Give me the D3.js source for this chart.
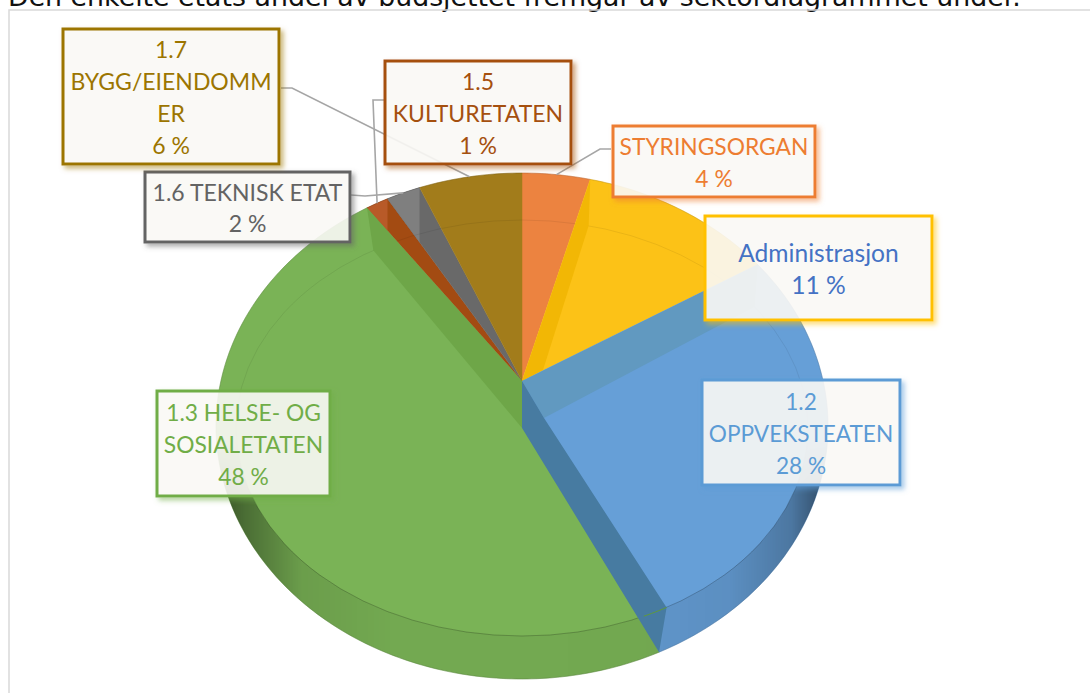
<!DOCTYPE html>
<html>
<head>
<meta charset="utf-8">
<style>
  html, body { margin: 0; padding: 0; background: #fff; overflow: hidden; }
  svg { display: block; }
</style>
</head>
<body>
<script src="https://d3js.org/d3.v7.min.js"></script>
<script>
// slice order clockwise from twelve o'clock, shares
const categories = ['STYRINGSORGAN', 'Administrasjon', '1.2 OPPVEKSTEATEN', '1.3 HELSE- OG SOSIALETATEN', '1.5 KULTURETATEN', '1.6 TEKNISK ETAT', '1.7 BYGG/EIENDOMMER'];
const shares = [3.6, 11.4, 28, 48.3, 1.3, 1.9, 5.5];
const percentLabels = ['4 %', '11 %', '28 %', '48 %', '1 %', '2 %', '6 %'];
const labelLines = [
  ['STYRINGSORGAN'],
  ['Administrasjon'],
  ['1.2', 'OPPVEKSTEATEN'],
  ['1.3 HELSE- OG', 'SOSIALETATEN'],
  ['1.5', 'KULTURETATEN'],
  ['1.6 TEKNISK ETAT'],
  ['1.7', 'BYGG/EIENDOMM', 'ER']
];

// styles
const sliceFill = ['#ec8340', '#fcc217', '#669fd7', '#7ab356', '#a34b12', '#696969', '#a27c1b'];
const borderCol = ['#ed7d31', '#ffc000', '#5b9bd5', '#70ad47', '#a5500f', '#636363', '#9c7500'];
const textCol = ['#ed7d31', '#4472c4', '#5b9bd5', '#70ad47', '#a5500f', '#636363', '#9c7500'];
const labelSize = [22.8, 24.6, 22.6, 22.8, 23, 23, 23];

const width = 1090, height = 693;
const svg = d3.select('body').append('svg').attr('width', width).attr('height', height);
const defs = svg.append('defs');

// page text and chart frame
svg.append('text')
  .attr('x', 8).attr('y', 6)
  .attr('font-family', 'DejaVu Sans').attr('font-size', 26.8).attr('fill', '#111')
  .text('Den enkelte etats andel av budsjettet fremgår av sektordiagrammet under.');
svg.append('path').attr('d', 'M9,693V10H1090').attr('fill', 'none').attr('stroke', '#d9d9d9').attr('stroke-width', 1.5);

// pie geometry: tilted, so back and front of the disc are not the same
const apex = [522, 381];
const centre = [522, 428];
const outer = { cx: 522, cy: 426, rx: 306, ry: 253 };
const inner = { cx: 522, cy: 428, rx: 286, ry: 208 };

const arcs = d3.pie().sort(null).value(d => d)(shares);
const line = d3.line();
const poly = pts => line(pts) + 'Z';

const outerDir = a => [306 * Math.sin(a), -(Math.cos(a) >= 0 ? 208 : 285) * Math.cos(a)];
const faceDir = a => [inner.rx * Math.sin(a), -inner.ry * Math.cos(a)];

function hit(e, p, d) {
  const x = (p[0] - e.cx) / e.rx, y = (p[1] - e.cy) / e.ry;
  const u = d[0] / e.rx, v = d[1] / e.ry;
  const A = u * u + v * v, B = 2 * (x * u + y * v), C = x * x + y * y - 1;
  const t = (-B + Math.sqrt(B * B - 4 * A * C)) / (2 * A);
  return [p[0] + t * d[0], p[1] + t * d[1]];
}

function rimArc(e, p0, p1) {
  let t0 = Math.atan2((p0[0] - e.cx) / e.rx, -(p0[1] - e.cy) / e.ry);
  let t1 = Math.atan2((p1[0] - e.cx) / e.rx, -(p1[1] - e.cy) / e.ry);
  if (t1 < t0) t1 += 2 * Math.PI;
  const n = Math.max(2, Math.ceil((t1 - t0) * 60));
  return d3.range(n + 1).map(i => {
    const t = t0 + (t1 - t0) * i / n;
    return [e.cx + e.rx * Math.sin(t), e.cy - e.ry * Math.cos(t)];
  });
}

const rimPoint = a => hit(outer, apex, outerDir(a));
const ellipsePath = e => `M${e.cx - e.rx},${e.cy}A${e.rx},${e.ry} 0 1 1 ${e.cx + e.rx},${e.cy}A${e.rx},${e.ry} 0 1 1 ${e.cx - e.rx},${e.cy}Z`;

// wedges
const pie = svg.append('g');
pie.selectAll('path.wedge')
  .data(arcs)
  .join('path')
  .attr('class', 'wedge')
  .attr('d', d => poly([apex].concat(rimArc(outer, rimPoint(d.startAngle), rimPoint(d.endAngle)))))
  .attr('fill', (d, i) => sliceFill[i])
  .attr('stroke', (d, i) => sliceFill[i])
  .attr('stroke-width', 0.5);

// lighter outer part of the two thin slices
const lightFill = { 4: '#b85a28', 5: '#7f7f7f' };
Object.keys(lightFill).forEach(k => {
  const d = arcs[k];
  const p0 = rimPoint(d.startAngle), p1 = rimPoint(d.endAngle);
  const s = (p1[0] - p0[0]) / (apex[0] - p0[0]);
  const q = [p1[0], p0[1] + s * (apex[1] - p0[1])];
  pie.append('path').attr('d', poly(rimArc(outer, p0, p1).concat([q]))).attr('fill', lightFill[k]);
});

// rim shading on the front of the disc
const sideGrad = defs.append('linearGradient').attr('id', 'side')
  .attr('gradientUnits', 'userSpaceOnUse').attr('x1', 216).attr('x2', 828).attr('y1', 0).attr('y2', 0);
[[0, .55], [.05, .38], [.14, .12], [.3, .05], [.7, .06], [.84, .1], [.94, .25], [1, .55]].forEach(s =>
  sideGrad.append('stop').attr('offset', s[0]).attr('stop-color', '#000').attr('stop-opacity', s[1]));
const fadeGrad = defs.append('linearGradient').attr('id', 'fade')
  .attr('gradientUnits', 'userSpaceOnUse').attr('x1', 0).attr('x2', 0).attr('y1', 440).attr('y2', 490);
fadeGrad.append('stop').attr('offset', 0).attr('stop-color', '#000');
fadeGrad.append('stop').attr('offset', 1).attr('stop-color', '#fff');
defs.append('mask').attr('id', 'frontOnly').attr('maskUnits', 'userSpaceOnUse')
  .attr('x', 0).attr('y', 0).attr('width', width).attr('height', height)
  .append('rect').attr('width', width).attr('height', height).attr('fill', 'url(#fade)');
pie.append('path')
  .attr('d', ellipsePath(outer) + ellipsePath(inner))
  .attr('fill-rule', 'evenodd')
  .attr('fill', 'url(#side)')
  .attr('mask', 'url(#frontOnly)');

// top edge of the disc and outline, the edge is only plain at the front
pie.append('path').attr('d', ellipsePath(inner)).attr('fill', 'none').attr('stroke', '#000').attr('stroke-opacity', .07).attr('stroke-width', 1);
pie.append('path').attr('d', ellipsePath(inner)).attr('fill', 'none').attr('stroke', '#000').attr('stroke-opacity', .16).attr('stroke-width', 1).attr('mask', 'url(#frontOnly)');
pie.append('path').attr('d', ellipsePath(outer)).attr('fill', 'none').attr('stroke', '#000').attr('stroke-opacity', .12).attr('stroke-width', 1);

// inner walls of the slices, seen where a slice stands out of the disc
const blueOff = [22, -10];
const walls = [
  { i: 1, edge: 'startAngle', off: [21, -58], fill: '#f2b705' },
  { i: 2, edge: 'startAngle', off: blueOff, fill: '#6199c0' },
  { i: 2, edge: 'endAngle', off: blueOff, fill: '#477ba1', viaCentre: true },
  { i: 3, edge: 'endAngle', off: [0, 0], fill: '#6ea648' }
];
walls.forEach(w => {
  const a = arcs[w.i][w.edge];
  const v = [centre[0] + w.off[0], centre[1] + w.off[1]];
  const top = hit(inner, v, faceDir(a));
  const pts = w.viaCentre ? [apex, centre, rimPoint(a), top, v] : [apex, rimPoint(a), top, v];
  pie.append('path').attr('d', poly(pts)).attr('fill', w.fill);
});

// disc edge of the green slice carries on over the blue wall
const blueEnd = arcs[2].endAngle;
pie.append('path')
  .attr('d', line(rimArc(inner, hit(inner, [centre[0] + blueOff[0], centre[1] + blueOff[1]], faceDir(blueEnd)), hit(inner, centre, faceDir(blueEnd)))))
  .attr('fill', 'none').attr('stroke', '#5f9a3c').attr('stroke-width', 1);

// leader lines, outside end taken from the slice, the rest from the box
const leaders = [
  { i: 0, bend: [[611, 149], [600, 149]] },
  { i: 5, bend: [[351, 195], [365, 196]] },
  { i: 4, bend: [[384, 100], [373, 100]] },
  { i: 6, bend: [[281, 88], [292, 88]] }
];
const leaderG = svg.append('g');
leaders.forEach(l => {
  const d = arcs[l.i];
  const mid = (d.startAngle + d.endAngle) / 2;
  leaderG.append('path')
    .attr('d', line(l.bend.concat([rimPoint(mid)])))
    .attr('fill', 'none').attr('stroke', '#a6a6a6').attr('stroke-width', 1.6);
});

// label boxes
const boxes = [
  { x: 612, y: 125, w: 204, h: 73 },
  { x: 704, y: 215, w: 229, h: 106 },
  { x: 701, y: 379, w: 200, h: 107 },
  { x: 156, y: 390, w: 175, h: 107 },
  { x: 384, y: 60, w: 188, h: 105 },
  { x: 144, y: 171, w: 207, h: 72 },
  { x: 62, y: 28, w: 218, h: 137 }
];
const lineStep = 31.8;
const labelG = svg.append('g');
categories.forEach((name, i) => {
  const b = boxes[i];
  const f = defs.append('filter').attr('id', 'shadow' + i)
    .attr('x', '-10%').attr('y', '-15%').attr('width', '125%').attr('height', '135%');
  f.append('feGaussianBlur').attr('in', 'SourceAlpha').attr('stdDeviation', 2.5).attr('result', 'b');
  f.append('feOffset').attr('in', 'b').attr('dx', 3).attr('dy', 3).attr('result', 'o');
  f.append('feFlood').attr('flood-color', borderCol[i]).attr('flood-opacity', .55).attr('result', 'c');
  f.append('feComposite').attr('in', 'c').attr('in2', 'o').attr('operator', 'in').attr('result', 's');
  f.append('feComposite').attr('in', 's').attr('in2', 'SourceAlpha').attr('operator', 'out').attr('result', 'so');
  const m = f.append('feMerge');
  m.append('feMergeNode').attr('in', 'so');
  m.append('feMergeNode').attr('in', 'SourceGraphic');

  const g = labelG.append('g');
  g.append('rect')
    .attr('x', b.x + 1).attr('y', b.y + 1).attr('width', b.w - 2).attr('height', b.h - 2)
    .attr('fill', 'rgb(250,248,245)').attr('fill-opacity', .9)
    .attr('stroke', borderCol[i]).attr('stroke-width', 3)
    .attr('filter', `url(#shadow${i})`);
  const lines = labelLines[i].concat([percentLabels[i]]);
  const midY = b.y + b.h / 2 + 1.5;
  g.selectAll('text')
    .data(lines)
    .join('text')
    .attr('x', b.x + b.w / 2)
    .attr('y', (d, k) => midY + (k - (lines.length - 1) / 2) * lineStep)
    .attr('dy', '0.35em')
    .attr('text-anchor', 'middle')
    .attr('font-family', 'Lato')
    .attr('font-size', labelSize[i])
    .attr('fill', textCol[i])
    .text(d => d);
});
</script>
</body>
</html>
